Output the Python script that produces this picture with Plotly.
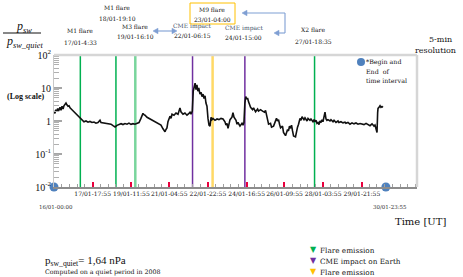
import plotly.graph_objects as go

# ---------------- data (hours since 16/01-00:00 UT, ratio p_sw / p_sw_quiet) ----------------
hours = [0, 1, 2, 3, 4, 5, 6.5, 7.6, 8.7, 9.8,
         10.8, 11.9, 13, 14, 15.2, 16.3, 17.4, 19.5, 21.7, 23.9,
         26, 28.2, 30.4, 32.5, 34.7, 36.9, 39, 41.2, 43.4, 45.5,
         47.7, 49.9, 51, 53.1, 55.3, 57.5, 59.6, 61.8, 64, 66.2,
         68.3, 70.5, 72.7, 74.8, 77, 79.2, 81.3, 83.5, 85.7, 87.8,
         90, 92.2, 94.3, 96.5, 97.6, 98.7, 100.9, 103, 105.2, 107.4,
         109.5, 111.7, 113.9, 116, 118.2, 120.4, 121.4, 122.5, 123.6, 125.8,
         126.9, 128, 130.1, 132.3, 134.5, 135.5, 136.6, 137.7, 139.9, 142,
         144.2, 146.4, 147.5, 148.6, 150, 151, 152, 153, 154, 155,
         156, 157, 158.3, 159.4, 160.5, 161.6, 162.7, 163.8, 164.8, 165.9,
         167, 168.1, 169.2, 170.3, 171.3, 172.4, 174.6, 176.8, 178.9, 181.1,
         183.3, 185.4, 186.5, 187.6, 188.7, 189.8, 190.9, 193, 194.1, 195.2,
         197.4, 198.5, 199.5, 201.7, 203.9, 205, 206, 207, 208, 208.9,
         209.9, 211, 212.1, 213.2, 215.3, 216.4, 218.6, 220.8, 221.8, 224,
         226.2, 228.3, 229.4, 230.5, 231.6, 232.7, 234.8, 235.9, 238.1, 240.3,
         241.3, 242.4, 243.5, 244.6, 245.7, 247.8, 248.9, 251.1, 252.2, 253.3,
         254.3, 255.4, 256.5, 257.6, 258.7, 259.8, 261.9, 263, 264.1, 265.2,
         266.8, 267.9, 269, 271.1, 272.2, 274.4, 275.5, 277.6, 278.7, 280.9,
         282, 283, 284.1, 285.2, 286.3, 287.4, 288.5, 289.6, 290.6, 291.7,
         292.8, 293.9, 295, 296, 297.1, 299.3, 300.4, 302.6, 303.7, 305.8,
         308, 309, 311.2, 313.4, 315.6, 316.6, 318.8, 321, 323.2, 325.3,
         327.5, 329.7, 331.9, 334, 336.2, 338.4, 340.5, 342.7, 344.9, 347,
         348.1, 349.2, 350.3, 351, 351.4, 352.5, 353.6, 354.6, 355.7, 356.8]

ratio = [2.0, 1.7, 2.2, 1.9, 2.4, 2.0, 2.6, 2.1, 2.8, 2.3,
         2.9, 3.2, 3.5, 3.1, 2.8, 2.9, 2.5, 2.2, 1.9, 1.7,
         1.45, 1.25, 1.05, 0.95, 1.0, 0.92, 0.97, 0.9, 0.93, 0.86,
         0.9, 1.05, 0.9, 0.88, 0.85, 0.82, 0.78, 0.8, 0.72, 0.66,
         0.74, 0.78, 0.83, 0.78, 0.84, 0.8, 0.86, 0.79, 0.83, 0.8,
         0.85, 0.9, 1.2, 1.7, 1.55, 1.5, 1.3, 1.2, 1.1, 1.02,
         0.95, 0.9, 0.82, 0.75, 0.58, 0.47, 0.55, 0.62, 0.95, 1.4,
         1.2, 1.6, 1.5, 1.75, 1.6, 2.2, 2.5, 1.9, 1.6, 1.75,
         1.5, 1.7, 1.85, 1.6, 2.0, 8.0, 12.0, 14.0, 9.0, 12.5,
         8.0, 10.0, 6.5, 7.5, 5.5, 6.5, 4.8, 5.8, 3.5, 2.8,
         1.2, 0.75, 0.7, 1.3, 1.1, 1.2, 1.05, 1.15, 1.1, 1.2,
         1.15, 0.95, 0.75, 0.85, 0.6, 0.75, 1.1, 1.3, 1.8, 1.3,
         1.05, 0.8, 0.9, 0.7, 0.85, 0.75, 0.9, 3.5, 5.5, 4.6,
         5.0, 3.8, 3.2, 2.6, 2.2, 2.5, 1.9, 2.3, 2.0, 2.2,
         2.0, 1.85, 2.1, 1.6, 1.1, 0.8, 0.85, 0.65, 0.7, 0.95,
         1.2, 1.0, 1.1, 0.8, 0.62, 0.7, 0.45, 0.36, 0.42, 0.55,
         0.5, 0.7, 0.6, 0.75, 0.5, 0.35, 0.33, 0.5, 0.65, 0.8,
         1.2, 1.05, 1.35, 1.1, 1.25, 1.0, 1.2, 1.05, 1.15, 0.95,
         1.1, 0.95, 1.05, 0.85, 0.9, 0.78, 1.0, 0.9, 1.1, 0.95,
         1.3, 1.85, 1.15, 1.05, 1.1, 1.0, 1.1, 0.95, 1.05, 0.9,
         1.0, 0.9, 0.95, 0.88, 0.92, 0.85, 0.9, 0.8, 0.88, 0.82,
         0.87, 0.8, 0.84, 0.82, 0.78, 0.85, 0.8, 0.72, 0.82, 0.7,
         0.75, 0.62, 0.45, 1.8, 2.4, 2.6, 2.9, 2.6, 2.75, 2.6]

event_names = ["M1 flare", "M1 flare", "M3 flare", "CME impact", "M9 flare", "CME impact", "X2 flare"]
event_dates = ["17/01-4:33", "18/01-19:10", "19/01-16:10", "22/01-06:15", "23/01-04:00", "24/01-15:00", "27/01-18:35"]
event_hours = [28.55, 67.17, 88.17, 150.25, 172.0, 207.0, 282.58]
event_kinds = ["flare", "flare", "flare_light", "cme", "flare_yellow", "cme", "flare"]

tick_hours = [41.92, 83.92, 124.92, 166.92, 208.92, 249.92, 291.92, 333.92]
tick_labels = ["17/01-17:55", "19/01-11:55", "21/01-04:55", "22/01-22:55",
               "24/01-16:55", "26/01-09:55", "28/01-03:55", "29/01-21:55"]

interval_hours = [0, 359.92]
interval_labels = ["16/01-00:00", "30/01-23:55"]

y_tick_vals = [0.01, 0.1, 1, 10, 100]
y_tick_text = ["10<sup>-2</sup>", "10<sup>-1</sup>", "1", "10", "10<sup>2</sup>"]

legend_labels = ["Flare emission", "CME impact on Earth", "Flare emission"]
legend_kinds = ["flare", "cme", "flare_yellow"]

assert len(hours) == len(ratio)

# ---------------- styling ----------------
W, H = 463, 277
L, R, T, B = 54, 417, 55, 187  # plot area in screen pixels
XMAX = (R - L) * 1.0845
SERIF = "DejaVu Serif"

line_col = {"flare": "#00b050", "flare_light": "#79d59c", "cme": "#7030a0", "flare_yellow": "#ffd966"}
tri_col = {"flare": "#00b050", "flare_light": "#00b050", "cme": "#7030a0", "flare_yellow": "#ffc000"}
line_w = {"flare": 1.5, "flare_light": 2.5, "cme": 1.5, "flare_yellow": 2.5}


def px(x):
    return (x - L) / (R - L)


def py(y):
    return (B - y) / (B - T)


fig = go.Figure()

shapes = []
for h, k in zip(event_hours, event_kinds):
    shapes.append(dict(type="line", xref="x", yref="paper", x0=h, x1=h, y0=0, y1=1,
                       line=dict(color=line_col[k], width=line_w[k]), layer="below"))

# frame: top and right gray borders
shapes.append(dict(type="line", xref="paper", yref="paper", x0=0, x1=1, y0=1, y1=1,
                   line=dict(color="#d6d6d6", width=2.5)))
shapes.append(dict(type="line", xref="paper", yref="paper", x0=1, x1=1, y0=0, y1=1,
                   line=dict(color="#d6d6d6", width=2.5)))

fig.add_trace(go.Scatter(x=hours, y=ratio, mode="lines",
                         line=dict(color="#111111", width=1.6), showlegend=False, hoverinfo="skip"))

fig.add_trace(go.Scatter(x=event_hours, y=[10 ** 2.21] * len(event_hours), mode="markers",
                         marker=dict(symbol="triangle-down", size=8,
                                     color=[tri_col[k] for k in event_kinds]),
                         cliponaxis=False, showlegend=False, hoverinfo="skip"))

fig.add_trace(go.Scatter(x=interval_hours, y=[0.01, 0.01], mode="markers", yaxis="y2",
                         marker=dict(size=9, color="#4f81bd"),
                         cliponaxis=False, showlegend=False, hoverinfo="skip"))

ann = []


def text(x, y, s, size=6, color="#111111", xanchor="center", family=SERIF):
    ann.append(dict(xref="paper", yref="paper", x=px(x), y=py(y), text=s, showarrow=False,
                    xanchor=xanchor, yanchor="middle", font=dict(family=family, size=size, color=color)))


label_pos = [(80, 31, 42), (117, 7, 18), (135, 27, 37), (192, 26, 36), (212, 9, 19), (244, 28, 38), (313, 30, 41)]
for (name, date, kind), (cx, y1, y2) in zip(zip(event_names, event_dates, event_kinds), label_pos):
    ncol = "#44546a" if kind == "cme" else "#111111"
    text(cx, y1, name, size=6, color=ncol)
    text(cx, y2, date, size=6)

# M9 box
shapes.append(dict(type="rect", xref="paper", yref="paper", x0=px(190), x1=px(235), y0=py(24), y1=py(3),
                   line=dict(color="#ffc000", width=1)))

# arrows (light blue) as lines + triangular heads
acol = "#7f9fd3"


def seg(x0, y0, x1, y1):
    shapes.append(dict(type="line", xref="paper", yref="paper", x0=px(x0), x1=px(x1), y0=py(y0), y1=py(y1),
                       line=dict(color=acol, width=1.1)))


def head(x, y, direction):
    d = 5 if direction == "left" else -5
    path = "M {:.5f},{:.5f} L {:.5f},{:.5f} L {:.5f},{:.5f} Z".format(
        px(x), py(y), px(x + d), py(y - 2.8), px(x + d), py(y + 2.8))
    shapes.append(dict(type="path", xref="paper", yref="paper", path=path,
                       fillcolor=acol, line=dict(color=acol, width=0.5)))


seg(155, 31, 175, 31)
head(153, 31, "left")
head(177, 31, "right")
seg(245, 13, 285, 13)
seg(285, 13, 285, 33)
seg(285, 33, 277, 33)
head(242, 13, "left")
head(274, 33, "left")

# resolution note
text(440, 39, "5-min", size=8)
text(435, 50, "resolution", size=8)

# begin/end legend
shapes.append(dict(type="circle", xref="paper", yref="paper", x0=px(357), x1=px(365), y0=py(66), y1=py(58),
                   fillcolor="#4f81bd", line=dict(width=0)))
text(364, 62, "*Begin and", size=6.3, xanchor="left")
text(364, 71, "End  of", size=6.3, xanchor="left")
text(364, 80, "time interval", size=6.3, xanchor="left")

# y-axis title (fraction)
text(24, 27, "<i>p</i><sub><i>sw</i></sub>", size=12, family="Liberation Serif")
shapes.append(dict(type="line", xref="paper", yref="paper", x0=px(3), x1=px(41), y0=py(33), y1=py(33),
                   line=dict(color="#111111", width=1)))
text(24, 42, "<i>p</i><sub><i>sw_quiet</i></sub>", size=12, family="Liberation Serif")
text(25, 96, "<b>(Log scale)</b>", size=8, family="Liberation Serif")

# interval labels
text(56, 207, interval_labels[0], size=5.5, color="#333333")
text(390, 207, interval_labels[1], size=5.5, color="#333333")

text(448, 221, "Time [UT]", size=10, xanchor="right")

text(43, 261, "p<sub>sw_quiet</sub>= 1,64 nPa", size=11, xanchor="left", family="Liberation Serif")
text(43, 272, "Computed on a quiet period in 2008", size=6.3, xanchor="left")

for i, (lab, k) in enumerate(zip(legend_labels, legend_kinds)):
    yy = 249 + i * 11
    text(313, yy, "▼", size=8, color=tri_col[k], family="DejaVu Sans")
    text(318, yy + 1, lab, size=7.3, xanchor="left")

fig.update_layout(
    width=W, height=H,
    margin=dict(l=L, r=W - R, t=T, b=H - B, pad=0, autoexpand=False),
    paper_bgcolor="white", plot_bgcolor="white",
    shapes=shapes, annotations=ann, showlegend=False,
    xaxis=dict(range=[0, XMAX], showgrid=False, zeroline=False, automargin=False,
               showline=True, linecolor="#8c8c8c", linewidth=1.5,
               tickmode="array", tickvals=tick_hours, ticktext=tick_labels, tickangle=0,
               ticks="inside", ticklen=5, tickwidth=1.5, tickcolor="#e8003d",
               tickfont=dict(family=SERIF, size=6, color="#111111"),
               minor=dict(ticks="inside", ticklen=3, tickwidth=1, tickcolor="#a0a0a0",
                          tick0=0.25, dtick=8.333, showgrid=False)),
    yaxis=dict(type="log", range=[-2, 2], showgrid=False, zeroline=False, automargin=False,
               showline=True, linecolor="#c8c8c8", linewidth=1,
               tickmode="array", tickvals=y_tick_vals, ticktext=y_tick_text,
               ticks="inside", ticklen=8, tickwidth=1.5, tickcolor="#a6a6a6",
               tickfont=dict(family="Liberation Serif", size=10, color="#111111")),
    yaxis2=dict(type="log", range=[-2, 2], overlaying="y", side="left", showgrid=False, zeroline=False,
                dtick="D1", ticks="inside", ticklen=5, tickwidth=1.2, tickcolor="#b0b0b0",
                showticklabels=False, showline=False, automargin=False),
)

# remove the default page margin so the 463x277 figure fills the window exactly
fig.write_html("out.html", config={"displayModeBar": False},
               post_script="document.body.style.margin='0px';")
